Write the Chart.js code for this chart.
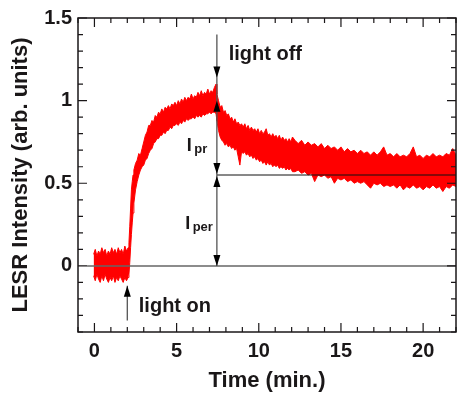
<!DOCTYPE html>
<html>
<head>
<meta charset="utf-8">
<script src="https://cdn.jsdelivr.net/npm/chart.js@4/dist/chart.umd.min.js"></script>
<style>
    html, body { margin: 0; padding: 0; background: #fff; }
</style>
</head>
<body>
<canvas id="grafico" width="457" height="399"></canvas>
<script>
// =======================
// DATA
// =======================

// time (min.)
const time = [
    -0.05, 0.05, 0.15, 0.25, 0.35, 0.45, 0.55, 0.65, 0.75, 0.85, 0.95,
    1.05, 1.15, 1.25, 1.35, 1.45, 1.55, 1.65, 1.75, 1.85, 1.95, 2.05,
    2.1, 2.15, 2.2, 2.25, 2.3, 2.35, 2.4, 2.5, 2.6, 2.7, 2.8, 2.9,
    3.0, 3.1, 3.2, 3.3, 3.4, 3.5, 3.6, 3.7, 3.8, 3.9,
    4.0, 4.1, 4.2, 4.3, 4.4, 4.5, 4.6, 4.7, 4.8, 4.9,
    5.0, 5.1, 5.2, 5.3, 5.4, 5.5, 5.6, 5.7, 5.8, 5.9,
    6.0, 6.1, 6.2, 6.3, 6.4, 6.5, 6.6, 6.7, 6.8, 6.9,
    7.0, 7.1, 7.2, 7.3, 7.4, 7.45,
    7.55, 7.65, 7.75, 7.85, 7.95, 8.05, 8.15, 8.25, 8.35, 8.45,
    8.55, 8.65, 8.75, 8.85, 8.95, 9.05, 9.15, 9.25, 9.35, 9.45,
    9.55, 9.65, 9.75, 9.85, 9.95, 10.05, 10.15, 10.25, 10.35, 10.45,
    10.55, 10.65, 10.75, 10.85, 10.95, 11.05, 11.15, 11.25, 11.35, 11.45,
    11.55, 11.65, 11.75, 11.85, 11.95, 12.05,
    12.2, 12.4, 12.6, 12.8, 13.0, 13.2, 13.4, 13.6, 13.8,
    14.0, 14.2, 14.4, 14.6, 14.8, 15.0, 15.2, 15.4, 15.6, 15.8,
    16.0, 16.2, 16.4, 16.6, 16.8, 17.0, 17.2, 17.4, 17.6, 17.8,
    18.0, 18.2, 18.4, 18.6, 18.8, 19.0, 19.2, 19.4, 19.6, 19.8,
    20.0, 20.2, 20.4, 20.6, 20.8, 21.0, 21.2, 21.4, 21.6, 21.8, 22.0
];

// top edge of the noisy LESR trace
const upperEnv = [
    0.07, 0.10, 0.06, 0.09, 0.07, 0.11, 0.08, 0.10, 0.06, 0.09, 0.07,
    0.11, 0.08, 0.10, 0.07, 0.11, 0.08, 0.10, 0.07, 0.12, 0.09, 0.11,
    0.14, 0.24, 0.35, 0.46, 0.51, 0.55, 0.58, 0.62, 0.64, 0.68, 0.67, 0.71,
    0.75, 0.79, 0.81, 0.85, 0.85, 0.88, 0.87, 0.91, 0.90, 0.93,
    0.92, 0.95, 0.93, 0.96, 0.95, 0.97, 0.95, 0.98, 0.97, 0.99,
    0.97, 1.00, 0.98, 1.01, 0.99, 1.02, 1.00, 1.02, 1.01, 1.04,
    1.01, 1.03, 1.02, 1.05, 1.03, 1.06, 1.03, 1.05, 1.04, 1.07,
    1.04, 1.06, 1.05, 1.08, 1.10, 1.04,
    1.00, 0.96, 0.97, 0.93, 0.94, 0.91, 0.92, 0.89, 0.90, 0.87,
    0.89, 0.86, 0.87, 0.85, 0.86, 0.84, 0.86, 0.83, 0.85, 0.82,
    0.84, 0.82, 0.83, 0.81, 0.83, 0.80, 0.82, 0.80, 0.81, 0.83,
    0.79, 0.80, 0.78, 0.80, 0.78, 0.79, 0.77, 0.79, 0.76, 0.78,
    0.76, 0.77, 0.75, 0.77, 0.75, 0.78,
    0.76, 0.74, 0.76, 0.73, 0.75, 0.73, 0.74, 0.72, 0.74,
    0.71, 0.73, 0.71, 0.72, 0.70, 0.72, 0.69, 0.71, 0.69, 0.70,
    0.68, 0.70, 0.68, 0.69, 0.67, 0.69, 0.67, 0.69, 0.72, 0.67,
    0.68, 0.66, 0.68, 0.66, 0.67, 0.66, 0.68, 0.72, 0.66, 0.67,
    0.65, 0.67, 0.66, 0.68, 0.66, 0.67, 0.66, 0.68, 0.67, 0.71, 0.67
];

// bottom edge of the noisy LESR trace
const lowerEnv = [
    -0.06, -0.09, -0.05, -0.08, -0.10, -0.06, -0.09, -0.05, -0.08, -0.10, -0.07,
    -0.09, -0.06, -0.10, -0.07, -0.09, -0.06, -0.08, -0.10, -0.07, -0.09, -0.07,
    -0.05, 0.02, 0.11, 0.19, 0.26, 0.32, 0.38, 0.46, 0.51, 0.55, 0.58, 0.60,
    0.61, 0.64, 0.65, 0.68, 0.70, 0.71, 0.74, 0.75, 0.77, 0.77,
    0.79, 0.79, 0.81, 0.80, 0.82, 0.82, 0.84, 0.83, 0.85, 0.85,
    0.86, 0.85, 0.87, 0.86, 0.88, 0.87, 0.89, 0.88, 0.89, 0.89,
    0.90, 0.89, 0.91, 0.90, 0.91, 0.90, 0.92, 0.91, 0.92, 0.92,
    0.93, 0.92, 0.93, 0.93, 0.92, 0.88,
    0.82, 0.78, 0.76, 0.75, 0.73, 0.74, 0.72, 0.73, 0.71, 0.72,
    0.70, 0.71, 0.66, 0.61, 0.69, 0.68, 0.69, 0.67, 0.68, 0.66,
    0.67, 0.65, 0.66, 0.64, 0.65, 0.63, 0.64, 0.62, 0.63, 0.61,
    0.63, 0.61, 0.62, 0.60, 0.61, 0.60, 0.61, 0.59, 0.60, 0.59,
    0.60, 0.58, 0.59, 0.58, 0.59, 0.57,
    0.57, 0.58, 0.56, 0.57, 0.55, 0.56, 0.51, 0.55, 0.54,
    0.55, 0.53, 0.54, 0.50, 0.53, 0.52, 0.53, 0.51, 0.52, 0.50,
    0.51, 0.50, 0.51, 0.49, 0.47, 0.50, 0.49, 0.50, 0.48, 0.49,
    0.48, 0.49, 0.47, 0.49, 0.46, 0.48, 0.47, 0.49, 0.47, 0.48,
    0.46, 0.48, 0.47, 0.49, 0.47, 0.48, 0.45, 0.48, 0.47, 0.49, 0.48
];

// tick labels
const xTicks = [0, 5, 10, 15, 20];
const yTicks = [0, 0.5, 1, 1.5];

// annotation values (data units)
const LIGHT_ON = 2;
const LIGHT_OFF = 7.45;
const I_TOP = 1.0;
const I_MID = 0.55;
const I_ZERO = 0;

// =======================
// STYLE
// =======================

const FONT = '"Liberation Sans", Arial, sans-serif';
const INK = "#1a1718";

// =======================
// ANNOTATIONS + FRAME
// =======================

function head(ctx, x, yTip, dir)
{
    // dir = 1 points down, -1 points up
    ctx.beginPath();
    ctx.moveTo(x, yTip);
    ctx.lineTo(x - 3.5, yTip - dir * 11);
    ctx.lineTo(x + 3.5, yTip - dir * 11);
    ctx.closePath();
    ctx.fill();
}

const annotations = {
    id: "annotations",

    afterDatasetsDraw(chart)
    {
        const ctx = chart.ctx;
        const sx = chart.scales.x;
        const sy = chart.scales.y;
        const X = v => sx.getPixelForValue(v);
        const Y = v => sy.getPixelForValue(v);
        const area = chart.chartArea;

        ctx.save();

        // zero line
        ctx.strokeStyle = "#666";
        ctx.lineWidth = 1.5;
        ctx.beginPath();
        ctx.moveTo(X(-0.45), Y(I_ZERO));
        ctx.lineTo(area.right, Y(I_ZERO));
        ctx.stroke();

        // persistent level
        ctx.strokeStyle = "#111";
        ctx.lineWidth = 1;
        ctx.beginPath();
        ctx.moveTo(X(LIGHT_OFF), Y(I_MID));
        ctx.lineTo(area.right, Y(I_MID));
        ctx.stroke();

        // vertical arrow lines
        ctx.strokeStyle = "#555";
        ctx.lineWidth = 1.3;
        ctx.beginPath();
        ctx.moveTo(X(LIGHT_OFF), Y(1.40));
        ctx.lineTo(X(LIGHT_OFF), Y(I_ZERO));
        ctx.moveTo(X(LIGHT_ON), Y(-0.33));
        ctx.lineTo(X(LIGHT_ON), Y(-0.12));
        ctx.stroke();

        // arrow heads
        ctx.fillStyle = "#000";
        head(ctx, X(LIGHT_OFF), Y(1.14), 1);
        head(ctx, X(LIGHT_OFF), Y(I_TOP), -1);
        head(ctx, X(LIGHT_OFF), Y(I_MID) - 1, 1);
        head(ctx, X(LIGHT_OFF), Y(I_MID) + 1, -1);
        head(ctx, X(LIGHT_OFF), Y(I_ZERO), 1);
        head(ctx, X(LIGHT_ON), Y(-0.12), -1);

        // labels
        ctx.fillStyle = INK;
        ctx.textBaseline = "middle";
        ctx.textAlign = "left";
        ctx.font = "bold 20px " + FONT;
        ctx.fillText("light off", X(8.17), Y(1.28));
        ctx.fillText("light on", X(2.7), Y(-0.247));

        ctx.textBaseline = "alphabetic";
        const sub = (main, subText, t, v) =>
        {
            ctx.font = "bold 18px " + FONT;
            ctx.fillText(main, X(t), Y(v));
            const w = ctx.measureText(main).width;
            ctx.font = "bold 13px " + FONT;
            ctx.fillText(subText, X(t) + w + 2.5, Y(v) + 2);
        };
        sub("I", "pr", 5.62, 0.697);
        sub("I", "per", 5.52, 0.225);

        ctx.restore();
    },

    afterDraw(chart)
    {
        const ctx = chart.ctx;
        const sx = chart.scales.x;
        const sy = chart.scales.y;
        const a = chart.chartArea;

        ctx.save();
        ctx.strokeStyle = INK;

        // inward ticks on all four sides
        ctx.lineWidth = 1.2;
        ctx.beginPath();
        for (let v = -1; v <= 22; v++)
        {
            const px = sx.getPixelForValue(v);
            const len = xTicks.includes(v) ? 9 : 5;
            ctx.moveTo(px, a.bottom);
            ctx.lineTo(px, a.bottom - len);
            ctx.moveTo(px, a.top);
            ctx.lineTo(px, a.top + len);
        }
        for (let i = -4; i <= 15; i++)
        {
            const v = i / 10;
            const py = sy.getPixelForValue(v);
            const len = (i % 5 === 0) ? 9 : 5;
            ctx.moveTo(a.left, py);
            ctx.lineTo(a.left + len, py);
            ctx.moveTo(a.right, py);
            ctx.lineTo(a.right - len, py);
        }
        ctx.stroke();

        // frame
        ctx.lineWidth = 1.5;
        ctx.strokeRect(a.left, a.top, a.right - a.left, a.bottom - a.top);
        ctx.restore();
    }
};

// =======================
// CHART
// =======================

const ctx = document.getElementById("grafico");

const grafico = new Chart(ctx, {
    type: "line",

    data: {
        datasets: [
            {
                label: "upper",
                data: time.map((t, i) => ({ x: t, y: upperEnv[i] })),
                borderColor: "#ff0000",
                backgroundColor: "#ff0000",
                borderWidth: 1,
                pointRadius: 0,
                tension: 0,
                fill: "+1"
            },
            {
                label: "lower",
                data: time.map((t, i) => ({ x: t, y: lowerEnv[i] })),
                borderColor: "#ff0000",
                borderWidth: 1,
                pointRadius: 0,
                tension: 0,
                fill: false
            }
        ]
    },

    options: {
        responsive: false,
        animation: false,
        events: [],
        layout: {
            padding: { top: 17, right: 1, left: 0, bottom: 0 }
        },
        plugins: {
            legend: { display: false },
            tooltip: { enabled: false }
        },
        scales: {
            x: {
                type: "linear",
                min: -1,
                max: 22,
                afterBuildTicks: s => { s.ticks = xTicks.map(v => ({ value: v })); },
                afterFit: s => { s.height = 67; },
                grid: { display: false, drawTicks: false },
                border: { display: false },
                ticks: {
                    padding: 7,
                    color: INK,
                    font: { family: FONT, size: 20, weight: "bold" },
                    callback: v => String(v)
                },
                title: {
                    display: true,
                    text: "Time (min.)",
                    color: INK,
                    font: { family: FONT, size: 22, weight: "bold" },
                    padding: { top: 0, bottom: 5 }
                }
            },
            y: {
                min: -0.4,
                max: 1.5,
                afterBuildTicks: s => { s.ticks = yTicks.map(v => ({ value: v })); },
                afterFit: s => { s.width = 78; },
                grid: { display: false, drawTicks: false },
                border: { display: false },
                ticks: {
                    padding: 6,
                    color: INK,
                    font: { family: FONT, size: 20, weight: "bold" },
                    callback: v => String(v)
                },
                title: {
                    display: true,
                    text: "LESR Intensity (arb. units)",
                    color: INK,
                    font: { family: FONT, size: 22, weight: "bold" },
                    padding: { top: 8, bottom: 0 }
                }
            }
        }
    },

    plugins: [annotations]
});
</script>
</body>
</html>
